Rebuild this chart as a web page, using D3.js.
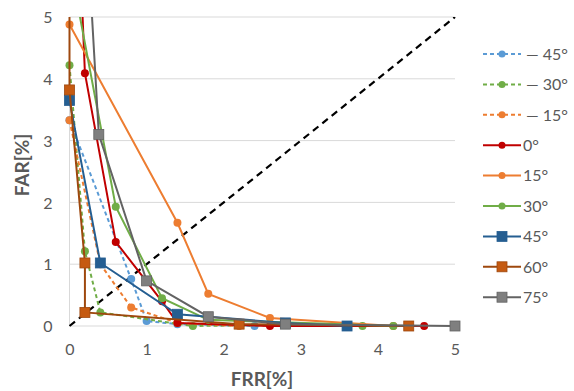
<!DOCTYPE html>
<html>
<head>
<meta charset="utf-8">
<script src="https://cdn.jsdelivr.net/npm/d3@7"></script>
<style>
  body { margin: 0; background: #fff; }
  svg text { font-family: Lato, "Liberation Sans", sans-serif; fill: #595959; }
</style>
</head>
<body>
<div id="chart"></div>
<script>
// legend labels, in draw order
var seriesNames = ['\u2014 45\u00b0', '\u2014 30\u00b0', '\u2014 15\u00b0', '0\u00b0', '15\u00b0', '30\u00b0', '45\u00b0', '60\u00b0', '75\u00b0']

// FRR / FAR values (points above 5 get clipped)
var frrM45 = [0, 0.8, 1.0, 1.4, 2.4]
var farM45 = [3.33, 0.76, 0.08, 0.03, 0.0]
var frrM30 = [0, 0.2, 0.4, 1.6, 2.2, 3.8]
var farM30 = [4.22, 1.21, 0.22, 0.0, 0.01, 0.0]
var frrM15 = [0, 0.4, 0.8, 1.4, 2.2]
var farM15 = [3.33, 1.0, 0.3, 0.05, 0.0]
var frrP0 = [0.1, 0.2, 0.6, 1.2, 1.4, 2.6, 4.6]
var farP0 = [7.1, 4.09, 1.36, 0.4, 0.05, 0.0, 0.0]
var frrP15 = [0, 1.4, 1.8, 2.6, 4.2]
var farP15 = [4.88, 1.67, 0.52, 0.13, 0.0]
var frrP30 = [0, 0.6, 1.2, 1.8, 4.2]
var farP30 = [5.9, 1.93, 0.45, 0.1, 0.0]
var frrP45 = [0, 0.4, 1.4, 2.8, 3.6]
var farP45 = [3.65, 1.02, 0.19, 0.05, 0.0]
var frrP60 = [0, 0, 0.2, 0.2, 2.2, 4.4]
var farP60 = [8, 3.82, 1.02, 0.22, 0.03, 0.0]
var frrP75 = [0.2, 0.38, 1.0, 1.8, 2.8, 5.0]
var farP75 = [7, 3.1, 0.73, 0.15, 0.03, 0.0]

var xTicks = [0, 1, 2, 3, 4, 5]
var yTicks = [0, 1, 2, 3, 4, 5]
var diagonal = [0, 5]

var frrs = [frrM45, frrM30, frrM15, frrP0, frrP15, frrP30, frrP45, frrP60, frrP75]
var fars = [farM45, farM30, farM15, farP0, farP15, farP30, farP45, farP60, farP75]

// styles
var lineColors = ['#5b9bd5', '#70ad47', '#ed7d31', '#c00000', '#ed7d31', '#70ad47', '#255e91', '#9e480e', '#636363']
var markColors = ['#5b9bd5', '#70ad47', '#ed7d31', '#c00000', '#ed7d31', '#70ad47', '#255e91', '#c55a11', '#7f7f7f']
var dashed = [true, true, true, false, false, false, false, false, false]
var squares = [false, false, false, false, false, false, true, true, true]

var W = 574, H = 391
var plotL = 69.5, plotR = 455, plotT = 17, plotB = 326

var svg = d3.select('#chart').append('svg')
  .attr('width', W)
  .attr('height', H)

var x = d3.scaleLinear().domain([0, 5]).range([plotL, plotR])
var y = d3.scaleLinear().domain([0, 5]).range([plotB, plotT])

/////////////// GRID + AXES ///////////////
svg.append('g')
  .selectAll('line')
  .data(yTicks.slice(1))
  .enter()
  .append('line')
  .attr('x1', plotL).attr('x2', plotR)
  .attr('y1', function(d){ return y(d) })
  .attr('y2', function(d){ return y(d) })
  .attr('stroke', '#d9d9d9')
  .attr('stroke-width', 1)

svg.append('line')
  .attr('x1', plotL).attr('x2', plotR)
  .attr('y1', y(0)).attr('y2', y(0))
  .attr('stroke', '#d9d9d9')
svg.append('line')
  .attr('x1', x(0)).attr('x2', x(0))
  .attr('y1', y(0)).attr('y2', y(5))
  .attr('stroke', '#d9d9d9')

var yAxis = svg.append('g')
  .attr('transform', 'translate(' + (plotL - 14) + ',0)')
  .call(d3.axisLeft(y).tickValues(yTicks).tickSize(0).tickFormat(d3.format('d')))
yAxis.select('.domain').remove()
yAxis.selectAll('text').attr('font-size', '16px').attr('dy', '0.36em').style('fill', '#595959')

var xAxis = svg.append('g')
  .attr('transform', 'translate(0,' + (plotB + 15) + ')')
  .call(d3.axisBottom(x).tickValues(xTicks).tickSize(0).tickFormat(d3.format('d')))
xAxis.select('.domain').remove()
xAxis.selectAll('text').attr('font-size', '16px').attr('dy', '0.71em').style('fill', '#595959')

svg.append('text')
  .text('FRR[%]')
  .attr('x', 262).attr('y', 386)
  .attr('text-anchor', 'middle')
  .attr('font-size', '19px')
  .attr('font-weight', 'bold')

svg.append('text')
  .text('FAR[%]')
  .attr('transform', 'translate(29,165) rotate(-90)')
  .attr('text-anchor', 'middle')
  .attr('font-size', '19px')
  .attr('font-weight', 'bold')

/////////////// SERIES ///////////////
svg.append('clipPath').attr('id', 'plotclip')
  .append('rect')
  .attr('x', plotL - 8).attr('y', plotT)
  .attr('width', plotR - plotL + 16).attr('height', plotB - plotT + 8)

var plot = svg.append('g').attr('clip-path', 'url(#plotclip)')

// diagonal
plot.append('line')
  .attr('x1', x(diagonal[0])).attr('y1', y(diagonal[0]))
  .attr('x2', x(diagonal[1])).attr('y2', y(diagonal[1]))
  .attr('stroke', '#000')
  .attr('stroke-width', 2.2)
  .attr('stroke-dasharray', '7,5')

var line = d3.line()
  .x(function(d){ return x(d[0]) })
  .y(function(d){ return y(d[1]) })

function drawMarker(g, cx, cy, i, size){
  if(squares[i]){
    g.append('rect')
      .attr('x', cx - size / 2).attr('y', cy - size / 2)
      .attr('width', size).attr('height', size)
      .attr('fill', markColors[i])
      .attr('stroke', lineColors[i])
      .attr('stroke-width', 0.8)
  } else {
    g.append('circle')
      .attr('cx', cx).attr('cy', cy)
      .attr('r', size / 2)
      .attr('fill', markColors[i])
  }
}

for(var i = 0; i < frrs.length; i++){
  var pts = []
  for(var j = 0; j < frrs[i].length; j++){
    pts.push([frrs[i][j], fars[i][j]])
  }
  var g = plot.append('g')
  g.append('path')
    .attr('d', line(pts))
    .attr('fill', 'none')
    .attr('stroke', lineColors[i])
    .attr('stroke-width', 2)
    .attr('stroke-dasharray', dashed[i] ? '4,3' : null)
  for(var j = 0; j < pts.length; j++){
    drawMarker(g, x(pts[j][0]), y(pts[j][1]), i, squares[i] ? 10 : 8)
  }
}

/////////////// LEGEND ///////////////
var legend = svg.append('g')
for(var i = 0; i < seriesNames.length; i++){
  var ly = 54 + i * 30.4
  legend.append('line')
    .attr('x1', 483).attr('x2', 521)
    .attr('y1', ly).attr('y2', ly)
    .attr('stroke', lineColors[i])
    .attr('stroke-width', 2)
    .attr('stroke-dasharray', dashed[i] ? '4,3' : null)
  drawMarker(legend, 502, ly, i, squares[i] ? 10 : 7)
  legend.append('text')
    .text(seriesNames[i])
    .attr('x', dashed[i] ? 526 : 523)
    .attr('y', ly)
    .attr('dy', '0.36em')
    .attr('font-size', '16px')
}
</script>
</body>
</html>
